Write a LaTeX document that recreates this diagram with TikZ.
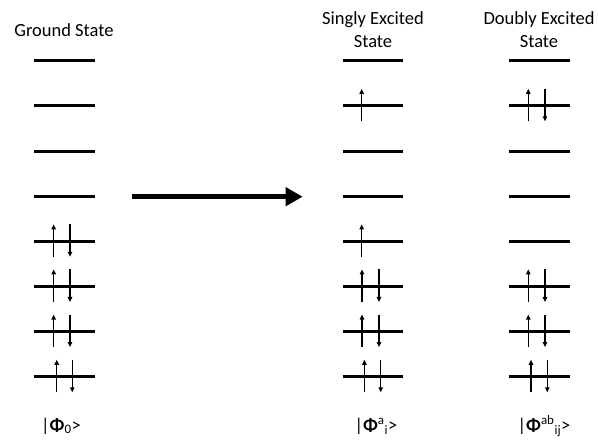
\documentclass[tikz,border=0pt]{standalone}
\usepackage{fontspec}
\setmainfont{Carlito}
\usetikzlibrary{arrows.meta}
\tikzstyle{level} = [line width=3pt]
\tikzstyle{elec} = [line width=1.1pt, -{Triangle[length=5pt,width=4.5pt]}]
\tikzstyle{bigarrow} = [line width=5pt, -{Triangle[length=17pt,width=18pt]}]
\tikzstyle{heading} = [font=\fontsize{18.5}{23}\selectfont, align=center, inner sep=0pt]
\begin{document}
\begin{tikzpicture}[x=1pt,y=-1pt]
    \useasboundingbox (0,0) rectangle (598,445);
    % orbital levels, one column per state
    \foreach \c/\x in {g/34, s/342.7, d/509.3}
      \foreach \k in {1,...,8}
        \draw[level] (\x,15.55+45.15*\k) coordinate (\c\k) -- +(60.5,0);
    % paired electrons
    \foreach \c/\k/\u/\d in {g/5/19.7/36, g/6/19.7/36, g/7/19.7/36, g/8/22.7/38.3,
                             s/6/19.3/36.3, s/7/19.3/36.3, s/8/21.7/38,
                             d/2/19/35.7, d/6/19/35.7, d/7/19/35.7, d/8/21.7/38} {
      \draw[elec] ([shift={(\u,15.5)}]\c\k) -- +(0,-32.5);
      \draw[elec] ([shift={(\d,-17)}]\c\k) -- +(0,32.5);
    }
    % unpaired electrons
    \foreach \k in {2,5}
      \draw[elec] ([shift={(19,15.5)}]s\k) -- +(0,-32.5);
    \coordinate (from) at (131.7,196.7);
    \coordinate (to) at (302.7,196.7);
    \draw[bigarrow] (from) -- (to);
    \node[heading] (gs) at (64,30) {Ground State};
    \node[heading] (ss) at (373,30) {Singly Excited\\State};
    \node[heading] (ds) at (539,30) {Doubly Excited\\State};
    \node[heading] (ketg) at (61,426) {|\textbf{Φ}\textsubscript{0}>};
    \node[heading] (kets) at (376,426) {|\textbf{Φ}\textsuperscript{a}\textsubscript{i}>};
    \node[heading] (ketd) at (544,426) {|\textbf{Φ}\textsuperscript{ab}\textsubscript{ij}>};
  \end{tikzpicture}
\end{document}
